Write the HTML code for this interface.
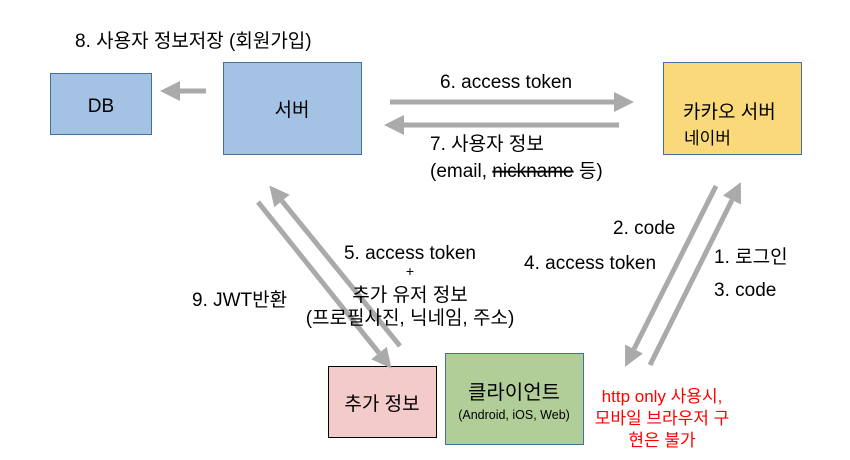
<!DOCTYPE html>
<html><head><meta charset="utf-8"><style>
html,body{margin:0;padding:0;background:#fff;}
svg{display:block;}
text{font-family:"Liberation Sans","Noto Sans CJK KR",sans-serif;fill:#000;}
text.red{fill:#ff0000;}
</style></head><body>
<svg width="850" height="460" viewBox="0 0 850 460" xmlns="http://www.w3.org/2000/svg">
<defs>
<marker id="ah" markerWidth="4" markerHeight="4" refX="0" refY="2" orient="auto" markerUnits="strokeWidth">
<polygon points="0,0 4,2 0,4" fill="#aaaaaa"/>
</marker>
</defs>
<rect x="50.5" y="73.5" width="101" height="61" fill="#a4c2e4" stroke="#41719c" stroke-width="1"/>
<rect x="223.5" y="62.5" width="138" height="92" fill="#a4c2e4" stroke="#41719c" stroke-width="1"/>
<rect x="663.5" y="62.5" width="138" height="92" fill="#f9d97a" stroke="#41719c" stroke-width="1"/>
<rect x="328.5" y="366.5" width="108" height="71" fill="#f4cbcb" stroke="#000" stroke-width="1"/>
<rect x="445.5" y="353.5" width="138" height="91" fill="#b1cd98" stroke="#41719c" stroke-width="1"/>
<g stroke="#aaaaaa" stroke-width="5" fill="none">
<line x1="206" y1="91" x2="180" y2="91" marker-end="url(#ah)"/>
<line x1="390" y1="102" x2="614" y2="102" marker-end="url(#ah)"/>
<line x1="619" y1="125" x2="404" y2="125" marker-end="url(#ah)"/>
<line x1="258" y1="202" x2="379" y2="353" marker-end="url(#ah)"/>
<line x1="400" y1="346" x2="282" y2="201" marker-end="url(#ah)"/>
<line x1="716" y1="186" x2="634" y2="349" marker-end="url(#ah)"/>
<line x1="650" y1="365" x2="732" y2="200" marker-end="url(#ah)"/>
</g>
<g font-size="19">
<text x="75" y="47">8. 사용자 정보저장 (회원가입)</text>
<text x="101" y="112" text-anchor="middle">DB</text>
<text x="292" y="116" text-anchor="middle">서버</text>
<text x="683" y="118">카카오 서버</text>
<text x="684" y="144" font-size="17">네이버</text>
<text x="440" y="88">6. access token</text>
<text x="430" y="150">7. 사용자 정보</text>
<text x="430" y="177">(email, <tspan text-decoration="line-through">nickname</tspan> 등)</text>
<text x="613" y="234">2. code</text>
<text x="524" y="269">4. access token</text>
<text x="714" y="263">1. 로그인</text>
<text x="714" y="296">3. code</text>
<text x="410" y="259" text-anchor="middle">5. access token</text>
<text x="410" y="276" text-anchor="middle" font-size="14">+</text>
<text x="410" y="301" text-anchor="middle">추가 유저 정보</text>
<text x="410" y="324" text-anchor="middle">(프로필사진, 닉네임, 주소)</text>
<text x="192" y="306">9. JWT반환</text>
<text x="382" y="410" text-anchor="middle">추가 정보</text>
<text x="514" y="399" text-anchor="middle" font-size="20">클라이언트</text>
<text x="514" y="419" text-anchor="middle" font-size="12.5">(Android, iOS, Web)</text>
<text class="red" x="662" y="402" text-anchor="middle" font-size="17">http only 사용시,</text>
<text class="red" x="662" y="424" text-anchor="middle" font-size="17">모바일 브라우저 구</text>
<text class="red" x="662" y="446" text-anchor="middle" font-size="17">현은 불가</text>
</g>
</svg>
</body></html>
